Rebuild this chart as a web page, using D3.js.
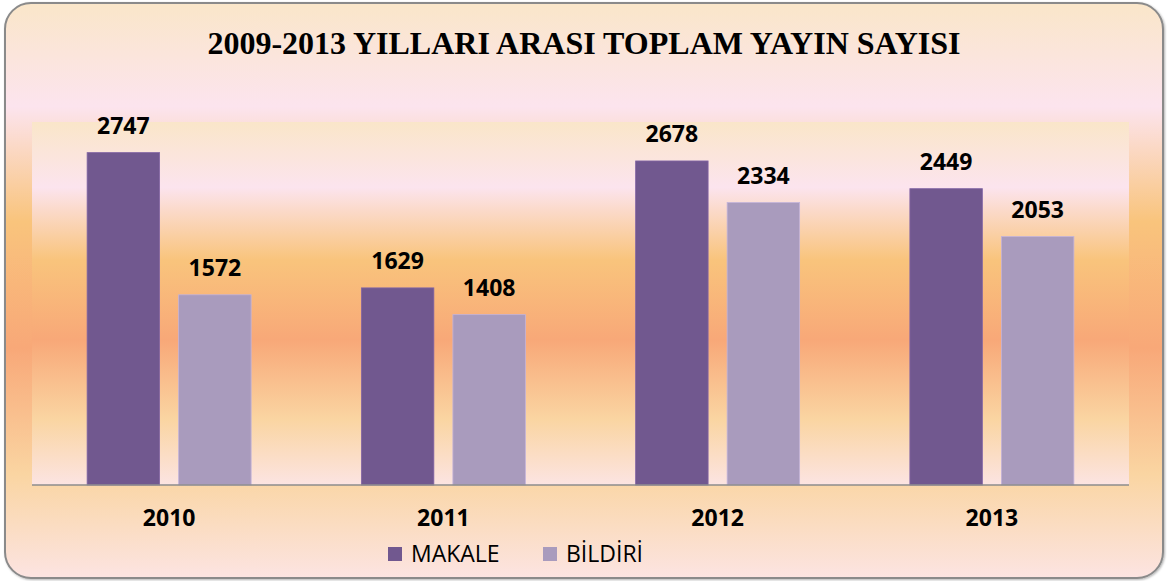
<!DOCTYPE html>
<html>
<head>
<meta charset="utf-8">
<script src="https://cdn.jsdelivr.net/npm/d3@7"></script>
<style>
  html, body { margin: 0; padding: 0; background: #ffffff; }
  svg { display: block; }
</style>
</head>
<body>
<div id="chart"></div>
<script>
// data
const years = ["2010", "2011", "2012", "2013"];
const series = ["MAKALE", "BİLDİRİ"];
const makale = [2747, 1629, 2678, 2449];
const bildiri = [1572, 1408, 2334, 2053];
const yDomain = [0, 3000];

const W = 1167, H = 581;
const colors = { "MAKALE": "#71588F", "BİLDİRİ": "#A99BBD" };

const rows = years.map((y, i) => ({ year: y, values: [
  { key: "MAKALE", value: makale[i] },
  { key: "BİLDİRİ", value: bildiri[i] }
]}));

const svg = d3.select("#chart").append("svg")
  .attr("width", W)
  .attr("height", H);

// background gradient, same bands on frame and plot area
const defs = svg.append("defs");
const grad = defs.append("linearGradient")
  .attr("id", "bg")
  .attr("x1", 0).attr("y1", 0).attr("x2", 0).attr("y2", 1);
[
  [0, "#FAE6C9"], [0.18, "#FCE4EE"], [0.38, "#F9C47C"],
  [0.6, "#F8A878"], [0.82, "#FAD5A2"], [1, "#FCE4E2"]
].forEach(s => grad.append("stop").attr("offset", s[0]).attr("stop-color", s[1]));

const shadow = defs.append("filter").attr("id", "shadow")
  .attr("x", "-2%").attr("y", "-2%").attr("width", "104%").attr("height", "104%");
shadow.append("feDropShadow")
  .attr("dx", 1).attr("dy", 1).attr("stdDeviation", 1)
  .attr("flood-color", "#000").attr("flood-opacity", 0.3);

svg.append("rect")
  .attr("x", 5).attr("y", 3)
  .attr("width", 1158).attr("height", 575)
  .attr("rx", 26).attr("ry", 26)
  .attr("fill", "url(#bg)")
  .attr("stroke", "#8a8a8a")
  .attr("stroke-width", 2)
  .attr("filter", "url(#shadow)");

// plot area
const plot = { left: 32, right: 1129, top: 122, bottom: 485 };

svg.append("rect")
  .attr("x", plot.left).attr("y", plot.top)
  .attr("width", plot.right - plot.left)
  .attr("height", plot.bottom - plot.top)
  .attr("fill", "url(#bg)");

const x0 = d3.scaleBand()
  .domain(years)
  .range([plot.left, plot.right])
  .paddingInner(0.402)
  .paddingOuter(0.201);

const x1 = d3.scaleBand()
  .domain(series)
  .range([0, x0.bandwidth()])
  .paddingInner(0.208);

const y = d3.scaleLinear()
  .domain(yDomain)
  .range([plot.bottom, plot.top]);

const groups = svg.selectAll("g.year")
  .data(rows)
  .enter()
  .append("g")
  .attr("class", "year")
  .attr("transform", d => `translate(${x0(d.year)},0)`);

groups.selectAll("rect")
  .data(d => d.values)
  .enter()
  .append("rect")
  .attr("x", d => x1(d.key))
  .attr("y", d => y(d.value))
  .attr("width", x1.bandwidth())
  .attr("height", d => y(0) - y(d.value))
  .attr("fill", d => colors[d.key])
  .attr("stroke", d => d3.color(colors[d.key]).brighter(0.4))
  .attr("stroke-width", 0.8);

groups.selectAll("text.val")
  .data(d => d.values)
  .enter()
  .append("text")
  .attr("class", "val")
  .text(d => d.value)
  .attr("x", d => x1(d.key) + x1.bandwidth() / 2)
  .attr("y", d => y(d.value) - 19)
  .attr("text-anchor", "middle")
  .style("font-family", "'Open Sans', sans-serif")
  .style("font-weight", "700")
  .style("font-size", "23px")
  .attr("fill", "#000");

// x axis
const xAxis = svg.append("g")
  .attr("transform", `translate(0,${plot.bottom})`)
  .call(d3.axisBottom(x0).tickSize(0).tickPadding(24).tickSizeOuter(0));
xAxis.select(".domain")
  .attr("d", `M${plot.left},0H${plot.right}`)
  .attr("stroke", "#8c8c8c")
  .attr("stroke-width", 1.6);
xAxis.selectAll("text")
  .style("font-family", "'Open Sans', sans-serif")
  .style("font-weight", "700")
  .style("font-size", "23px")
  .attr("fill", "#000")
  .attr("dy", "0.71em")
  .attr("y", 25);

// title
svg.append("text")
  .text("2009-2013 YILLARI ARASI TOPLAM YAYIN SAYISI")
  .attr("x", 584)
  .attr("y", 54)
  .attr("text-anchor", "middle")
  .style("font-family", "'Liberation Serif', 'Times New Roman', serif")
  .style("font-weight", "700")
  .style("font-size", "32px")
  .attr("fill", "#000");

// legend
const legendX = [388, 543];
const legend = svg.selectAll("g.legend")
  .data(series)
  .enter()
  .append("g")
  .attr("class", "legend")
  .attr("transform", (d, i) => `translate(${legendX[i]},547)`);

legend.append("rect")
  .attr("width", 14)
  .attr("height", 14)
  .attr("fill", d => colors[d]);

legend.append("text")
  .text(d => d)
  .attr("x", 23)
  .attr("y", 14.5)
  .style("font-family", "'Open Sans', sans-serif")
  .style("font-size", "23px")
  .attr("fill", "#000");
</script>
</body>
</html>
